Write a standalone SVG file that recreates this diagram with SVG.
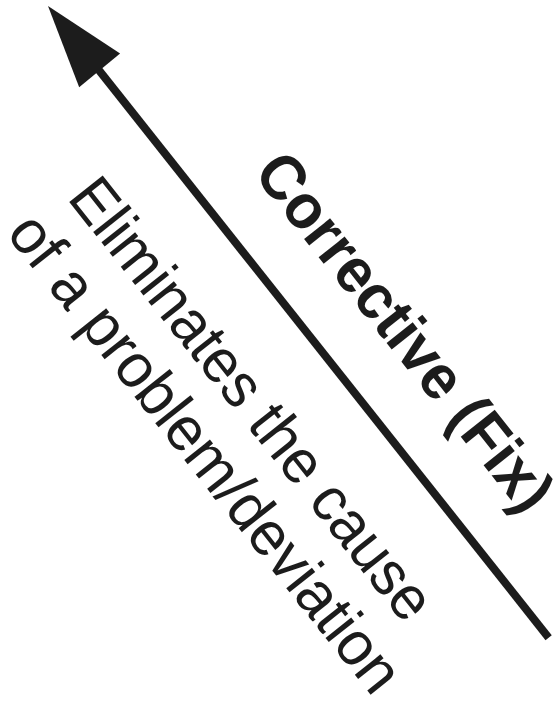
<svg xmlns="http://www.w3.org/2000/svg" width="560" height="707" viewBox="0 0 560 707">
  <style>
    .ink { fill: #1c1c1c; }
    .bold { font-family: "Liberation Sans", Arial, sans-serif; font-weight: bold; font-size: 63px; fill: #1c1c1c; }
    .reg { font-family: "Liberation Sans", Arial, sans-serif; font-size: 62px; fill: #1c1c1c; }
    .shaft { stroke: #1c1c1c; stroke-width: 8; fill: none; }
  </style>
  <rect width="560" height="707" fill="#ffffff"/>
  <g transform="translate(48,6) rotate(51.6)">
    <g id="connectors">
      <line class="shaft" x1="70" y1="0" x2="806" y2="0"/>
      <polygon class="ink" points="0,0 82,-27 83,26"/>
    </g>
    <g id="label-corrective">
      <text class="bold" x="258" y="-56" textLength="438" lengthAdjust="spacingAndGlyphs">Corrective (Fix)</text>
    </g>
    <g id="label-description">
      <text class="reg" x="162" y="105" textLength="545" lengthAdjust="spacingAndGlyphs">Eliminates the cause</text>
      <text class="reg" x="152" y="175" textLength="592" lengthAdjust="spacingAndGlyphs">of a problem/deviation</text>
    </g>
  </g>
</svg>
